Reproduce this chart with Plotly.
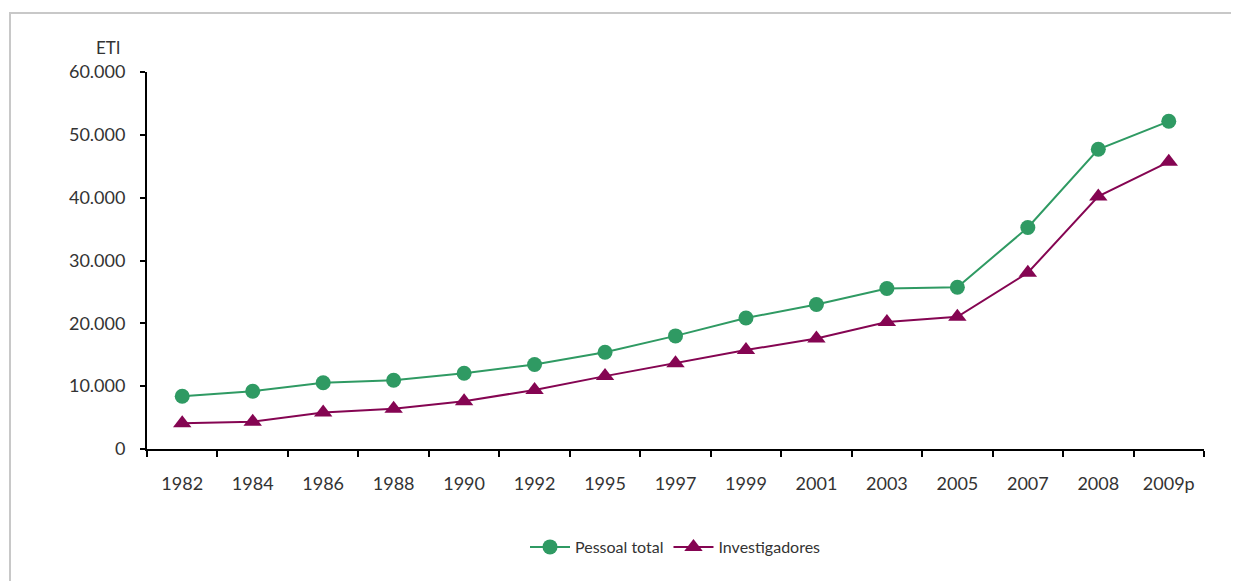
import plotly.graph_objects as go

years = ["1982", "1984", "1986", "1988", "1990", "1992", "1995", "1997", "1999",
         "2001", "2003", "2005", "2007", "2008", "2009p"]
pessoal_total = [8400, 9200, 10550, 10950, 12050, 13450, 15400, 18000, 20850,
                 23000, 25550, 25750, 35250, 47700, 52150]
investigadores = [4100, 4350, 5800, 6400, 7600, 9400, 11600, 13650, 15750,
                  17600, 20200, 21050, 28050, 40200, 45700]
y_ticks = [0, 10000, 20000, 30000, 40000, 50000, 60000]

FONT = "Lato"
TXT = "#333333"
GREEN = "#2F9A63"
MAROON = "#850552"

fig = go.Figure()
fig.add_trace(go.Scatter(
    x=years, y=pessoal_total, name="Pessoal total", mode="lines+markers",
    line=dict(color=GREEN, width=2),
    marker=dict(symbol="circle", size=15, color=GREEN),
))
fig.add_trace(go.Scatter(
    x=years, y=investigadores, name="Investigadores", mode="lines+markers",
    line=dict(color=MAROON, width=2),
    marker=dict(symbol="triangle-up", size=16, color=MAROON),
))

OFF = 8  # page body margin
W, H = 1239 - OFF, 581 - OFF
L, T = 147 - OFF, 72 - OFF
R = W - (1204 - OFF)
B = H - (449 - OFF)
pw, ph = W - L - R, H - T - B

def px_to_paper(x, y):
    x -= OFF
    y -= OFF
    return (x - L) / pw, (H - B - y) / ph

x0, y1 = px_to_paper(10, 13)
x1, y0 = px_to_paper(1236, 590)

fig.update_layout(
    width=W, height=H,
    margin=dict(l=L, r=R, t=T, b=B),
    paper_bgcolor="white", plot_bgcolor="white",
    separators=",.",
    font=dict(family=FONT, size=18, color=TXT),
    showlegend=True,
    legend=dict(orientation="h", x=0.5, xanchor="center", y=px_to_paper(0, 547)[1],
                yanchor="middle", font=dict(family=FONT, size=16, color=TXT),
                itemwidth=40),
    xaxis=dict(
        type="category", showgrid=False, showline=True, linecolor="black", linewidth=2,
        ticks="outside", tickson="boundaries", ticklen=6, tickcolor="black", tickwidth=2,
        ticklabelstandoff=17, range=[-0.5, 14.5],
        tickfont=dict(family=FONT, size=18, color=TXT),
    ),
    yaxis=dict(
        range=[0, 60000], tickvals=y_ticks, tickformat=",d", showgrid=False,
        showline=True, linecolor="black", linewidth=2, zeroline=False,
        ticks="outside", ticklen=5, tickcolor="black", tickwidth=2,
        ticklabelstandoff=11,
        tickfont=dict(family=FONT, size=18, color=TXT),
    ),
    shapes=[dict(type="rect", xref="paper", yref="paper", x0=x0, x1=x1, y0=y0, y1=y1,
                 line=dict(color="#C8C8C8", width=2), fillcolor="rgba(0,0,0,0)", layer="below")],
    annotations=[dict(text="ETI", xref="paper", yref="paper",
                      x=px_to_paper(108, 0)[0], y=px_to_paper(0, 48)[1],
                      xanchor="center", yanchor="middle", showarrow=False,
                      font=dict(family=FONT, size=17, color=TXT))],
)

fig.write_html("out.html")
